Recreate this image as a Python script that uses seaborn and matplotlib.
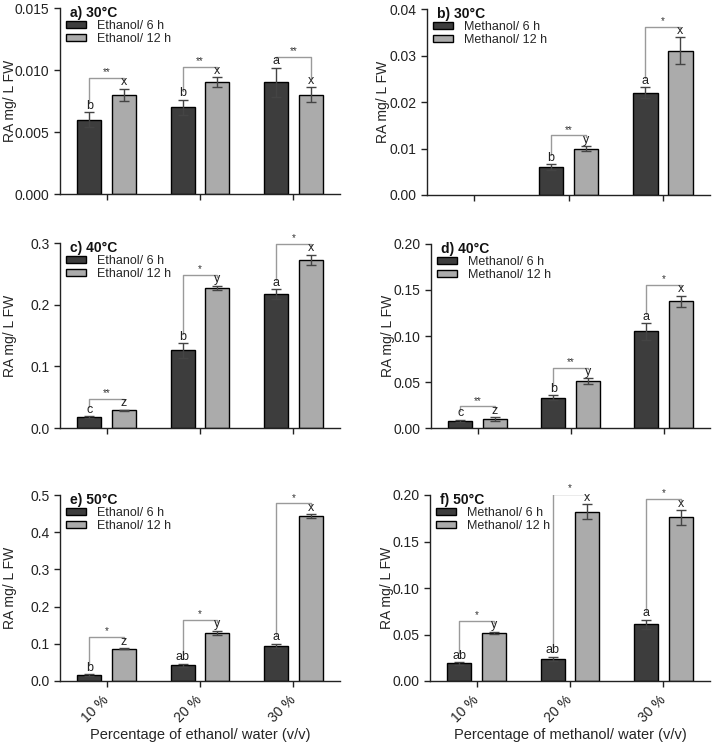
import numpy as np
import pandas as pd
import matplotlib
matplotlib.use('Agg')
import matplotlib.pyplot as plt
from matplotlib.patches import Patch
import seaborn as sns

sns.set_style('ticks')
plt.rcParams['font.family'] = ['Liberation Sans', 'DejaVu Sans']

conc = ['10 %', '20 %', '30 %']

# a) ethanol 30 C
eth30_6 = [0.006, 0.007, 0.009]
eth30_6_err = [0.0006, 0.0006, 0.0012]
eth30_12 = [0.008, 0.009, 0.008]
eth30_12_err = [0.0005, 0.0004, 0.0006]
# b) methanol 30 C
meth30_6 = [0.0, 0.006, 0.022]
meth30_6_err = [0.0, 0.0006, 0.0012]
meth30_12 = [0.0, 0.010, 0.031]
meth30_12_err = [0.0, 0.0005, 0.0029]
# c) ethanol 40 C
eth40_6 = [0.018, 0.126, 0.217]
eth40_6_err = [0.001, 0.012, 0.008]
eth40_12 = [0.029, 0.227, 0.273]
eth40_12_err = [0.001, 0.004, 0.008]
# d) methanol 40 C
meth40_6 = [0.008, 0.033, 0.105]
meth40_6_err = [0.001, 0.003, 0.009]
meth40_12 = [0.010, 0.051, 0.138]
meth40_12_err = [0.002, 0.003, 0.006]
# e) ethanol 50 C
eth50_6 = [0.016, 0.042, 0.094]
eth50_6_err = [0.002, 0.005, 0.006]
eth50_12 = [0.087, 0.130, 0.444]
eth50_12_err = [0.002, 0.005, 0.005]
# f) methanol 50 C
meth50_6 = [0.019, 0.024, 0.061]
meth50_6_err = [0.0015, 0.002, 0.005]
meth50_12 = [0.052, 0.182, 0.176]
meth50_12_err = [0.001, 0.008, 0.008]

# letters / significance
let_a = (['b', 'b', 'a'], ['x', 'x', 'x'], ['**', '**', '**'])
let_b = (['', 'b', 'a'], ['', 'y', 'x'], ['', '**', '*'])
let_c = (['c', 'b', 'a'], ['z', 'y', 'x'], ['**', '*', '*'])
let_d = (['c', 'b', 'a'], ['z', 'y', 'x'], ['**', '**', '*'])
let_e = (['b', 'ab', 'a'], ['z', 'y', 'x'], ['*', '*', '*'])
let_f = (['ab', 'ab', 'a'], ['y', 'x', 'x'], ['*', '*', '*'])

dark = '#3d3d3d'
light = '#ababab'
W, H = 714, 743


def ax_at(fig, l, r, t, b):
    return fig.add_axes([l / W, 1 - b / H, (r - l) / W, (b - t) / H])


def panel(ax, solvent, tag, v6, e6, v12, e12, lets, ymax, step, fmt, bottom, ylx):
    lab6 = solvent + '/ 6 h'
    lab12 = solvent + '/ 12 h'
    df = pd.DataFrame({'conc': conc * 2,
                       'time': [lab6] * 3 + [lab12] * 3,
                       'value': v6 + v12})
    sns.barplot(data=df, x='conc', y='value', hue='time', palette=[dark, light],
                width=0.74, gap=0.3, edgecolor='black', linewidth=1,
                errorbar=None, legend=False, ax=ax)
    let6, let12, sig = lets
    tops = []
    for cont, vals, errs, lets_ in zip(ax.containers[:2], [v6, v12], [e6, e12], [let6, let12]):
        tt = []
        for p, v, e, l in zip(cont.patches, vals, errs, lets_):
            x = p.get_x() + p.get_width() / 2
            if v > 0:
                ax.errorbar(x, v, yerr=e, fmt='none', ecolor='#444444', elinewidth=1,
                            capsize=3.5, capthick=1, zorder=3)
            else:
                p.set_visible(False)
            ax.text(x, v + e + 0.002 * ymax, l, ha='center', va='bottom', fontsize=9, color='#222222')
            tt.append((x, v + e))
        tops.append(tt)
    for (x1, t1), (x2, t2), s in zip(tops[0], tops[1], sig):
        if not s:
            continue
        lh = 0.048 * ymax
        h = max(t1, t2) + 0.058 * ymax
        ax.plot([x1, x1, x2, x2], [t1 + lh, h, h, t2 + lh], color='#9a9a9a', lw=1, zorder=2)
        ax.text((x1 + x2) / 2, h + 0.003 * ymax, s, ha='center', va='bottom', fontsize=7, color='#333333')

    ax.set_xlim(-0.5, 2.5)
    ax.set_ylim(0, ymax)
    ax.set_yticks(np.arange(0, ymax + step / 2, step))
    ax.set_yticklabels([fmt.format(t) for t in np.arange(0, ymax + step / 2, step)])
    sns.despine(ax=ax)
    for sp in ['left', 'bottom']:
        ax.spines[sp].set_color('#222222')
        ax.spines[sp].set_linewidth(1)
    ax.tick_params(axis='both', direction='out', length=4, width=1, colors='#222222', labelsize=10)
    ax.set_ylabel('RA mg/ L FW', fontsize=10)
    ax.yaxis.set_label_coords(ylx, 0.5)
    if bottom:
        ax.set_xticks(range(3))
        ax.set_xticklabels(conc, rotation=45, ha='right', va='center', rotation_mode='anchor')
        ax.tick_params(axis='x', pad=8)
        ax.set_xlabel('Percentage of ' + solvent.lower() + '/ water (v/v)', fontsize=10.5)
        ax.xaxis.set_label_coords(0.5, -0.255)
    else:
        ax.set_xlabel('')
        ax.tick_params(axis='x', labelbottom=False)

    ax.text(0.035, 1.012, tag, transform=ax.transAxes, ha='left', va='top',
            fontsize=10, fontweight='bold', color='#111111')
    handles = [Patch(facecolor=dark, edgecolor='black', lw=1, label=lab6),
               Patch(facecolor=light, edgecolor='black', lw=1, label=lab12)]
    ax.legend(handles=handles, loc='upper left', bbox_to_anchor=(0.022, 0.935), frameon=False,
              fontsize=9, handlelength=1.6, handleheight=0.5, handletextpad=0.9,
              labelspacing=0.05, borderpad=0, borderaxespad=0)


fig = plt.figure(figsize=(W / 100, H / 100), dpi=100)

ax_a = ax_at(fig, 60, 340, 8, 194)
ax_b = ax_at(fig, 427, 710, 9, 195)
ax_c = ax_at(fig, 60, 340, 243, 428)
ax_d = ax_at(fig, 431, 710, 244, 428)
ax_e = ax_at(fig, 60, 340, 495, 681)
ax_f = ax_at(fig, 430, 710, 495, 681)

panel(ax_a, 'Ethanol', 'a) 30°C', eth30_6, eth30_6_err, eth30_12, eth30_12_err, let_a,
      0.015, 0.005, '{:.3f}', False, -0.155)
panel(ax_b, 'Methanol', 'b) 30°C', meth30_6, meth30_6_err, meth30_12, meth30_12_err, let_b,
      0.04, 0.01, '{:.2f}', False, -0.13)
panel(ax_c, 'Ethanol', 'c) 40°C', eth40_6, eth40_6_err, eth40_12, eth40_12_err, let_c,
      0.3, 0.1, '{:.1f}', False, -0.155)
panel(ax_d, 'Methanol', 'd) 40°C', meth40_6, meth40_6_err, meth40_12, meth40_12_err, let_d,
      0.20, 0.05, '{:.2f}', False, -0.13)
panel(ax_e, 'Ethanol', 'e) 50°C', eth50_6, eth50_6_err, eth50_12, eth50_12_err, let_e,
      0.5, 0.1, '{:.1f}', True, -0.155)
panel(ax_f, 'Methanol', 'f) 50°C', meth50_6, meth50_6_err, meth50_12, meth50_12_err, let_f,
      0.20, 0.05, '{:.2f}', True, -0.13)

fig.savefig('out.png', dpi=100)
